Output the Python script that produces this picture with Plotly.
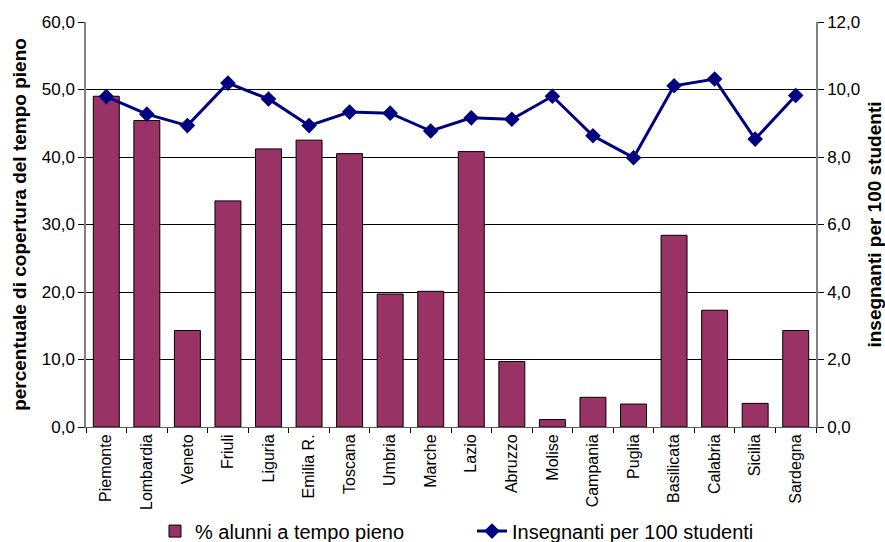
import plotly.graph_objects as go

regioni = ["Piemonte", "Lombardia", "Veneto", "Friuli", "Liguria", "Emilia R.", "Toscana",
           "Umbria", "Marche", "Lazio", "Abruzzo", "Molise", "Campania", "Puglia",
           "Basilicata", "Calabria", "Sicilia", "Sardegna"]
tempo_pieno = [49.0, 45.4, 14.3, 33.5, 41.2, 42.5, 40.5, 19.7, 20.1, 40.8,
               9.7, 1.1, 4.4, 3.4, 28.4, 17.3, 3.5, 14.3]
insegnanti = [9.79, 9.27, 8.93, 10.19, 9.72, 8.93, 9.33, 9.30, 8.77, 9.16,
              9.12, 9.80, 8.63, 7.98, 10.11, 10.31, 8.53, 9.82]

FONT = "Liberation Sans, Arial, sans-serif"

fig = go.Figure()
fig.add_trace(go.Bar(
    x=regioni, y=tempo_pieno, name="% alunni a tempo pieno",
    marker=dict(color="#993366", line=dict(color="black", width=1)),
    width=0.64,
))
fig.add_trace(go.Scatter(
    x=regioni, y=insegnanti, name="Insegnanti per 100 studenti", yaxis="y2",
    mode="lines+markers",
    line=dict(color="#000080", width=3),
    marker=dict(symbol="diamond", size=12, color="#000080"),
))

axis_font = dict(family=FONT, size=17, color="black")
title_font = dict(family=FONT, size=19, color="black")
fig.update_layout(
    width=885, height=542,
    margin=dict(l=86, r=69, t=22, b=115, autoexpand=False),
    paper_bgcolor="white", plot_bgcolor="white",
    separators=",.",
    showlegend=True,
    legend=dict(orientation="h", x=0.0945, xanchor="left", y=-0.257, yanchor="middle",
                font=dict(family=FONT, size=20, color="black"),
                traceorder="normal", itemwidth=30,
                entrywidthmode="pixels", entrywidth=272,
                borderwidth=0, bgcolor="rgba(0,0,0,0)"),
    xaxis=dict(
        type="category", tickangle=-90, tickson="boundaries",
        ticks="outside", ticklen=5, tickcolor="black",
        tickfont=dict(family=FONT, size=16, color="black"),
        showline=True, linecolor="#606060", linewidth=1, showgrid=False,
        range=[-0.5, 17.5], automargin=False,
    ),
    yaxis=dict(
        range=[0, 60], dtick=10, tickformat=".1f",
        ticks="outside", ticklen=6, tickcolor="black",
        showline=True, linecolor="#808080", linewidth=1.5,
        showgrid=True, gridcolor="black", gridwidth=1,
        tickfont=axis_font, zeroline=False, automargin=False,
        title=dict(text="<b>percentuale di copertura del tempo pieno</b>",
                   font=title_font, standoff=10),
    ),
    yaxis2=dict(
        range=[0, 12], dtick=2, tickformat=".1f", overlaying="y", side="right",
        ticks="outside", ticklen=6, tickcolor="black",
        showline=True, linecolor="#808080", linewidth=1.5,
        showgrid=False, zeroline=False, automargin=False,
        tickfont=axis_font,
        title=dict(text="<b>insegnanti per 100 studenti</b>",
                   font=title_font, standoff=8),
    ),
)
fig.write_html("out.html", config={"displayModeBar": False},
               post_script="document.body.style.margin='0';")
